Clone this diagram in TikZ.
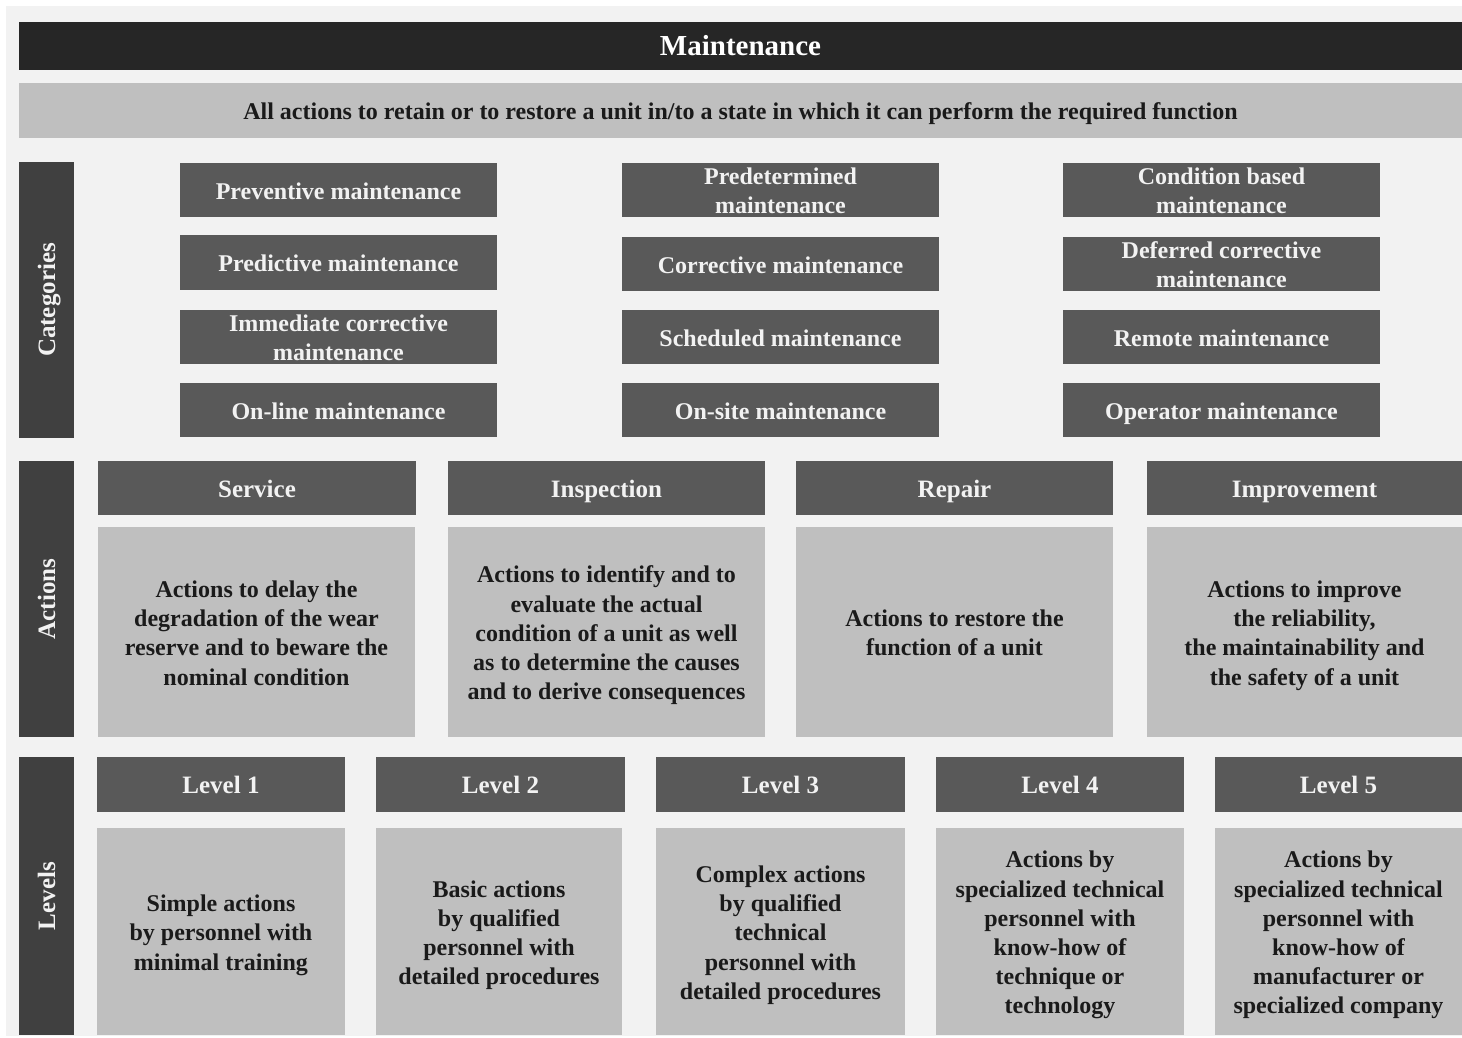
\documentclass[tikz,border=0pt]{standalone}
\usepackage{fontspec}
\setmainfont{Liberation Serif}
\definecolor{bgc}{HTML}{F2F2F2}
\definecolor{titlec}{HTML}{262626}
\definecolor{subc}{HTML}{BFBFBF}
\definecolor{sidec}{HTML}{404040}
\definecolor{hdrc}{HTML}{595959}
\definecolor{bodyc}{HTML}{BFBFBF}
\definecolor{txtl}{HTML}{F2F2F2}
\definecolor{txtd}{HTML}{1A1A1A}
\tikzset{
  base/.style={rectangle,inner sep=0pt,align=center},
  titlebox/.style={base,fill=titlec,text=white,font=\bfseries\fontsize{14.5}{16}\selectfont},
  subbox/.style={base,fill=subc,text=txtd,font=\bfseries\fontsize{12}{14}\selectfont},
  sidebox/.style={base,fill=sidec,text=txtl,font=\bfseries\fontsize{12.5}{14}\selectfont},
  catbox/.style={base,fill=hdrc,text=txtl,font=\bfseries\fontsize{12}{14.5}\selectfont},
  hdrbox/.style={base,fill=hdrc,text=txtl,font=\bfseries\fontsize{12.5}{14.5}\selectfont},
  bodybox/.style={base,fill=bodyc,text=txtd,font=\bfseries\fontsize{12}{14.6}\selectfont},
}
% \bx{name}{style}{x1}{y1}{x2}{y2}{text}
\newcommand{\bx}[7]{%
  \pgfmathsetmacro{\cx}{(#3+#5)/2}\pgfmathsetmacro{\cy}{(#4+#6)/2}%
  \pgfmathsetmacro{\bw}{(#5-#3)*0.5}\pgfmathsetmacro{\bh}{(#6-#4)*0.5}%
  \node[#2,minimum width=\bw pt,minimum height=\bh pt] (#1) at (\cx,\cy) {};
  \node[#2,fill=none,yshift=-1.75pt] (#1-t) at (#1.center) {\strut#7\strut};}
\newcommand{\sidebx}[4]{%
  \node[sidebox,minimum width=#3pt,minimum height=27.5pt,rotate=90] (#1) at (46.5,#2) {};
  \node[sidebox,fill=none,rotate=90] (#1-t) at ([xshift=1.5pt]#1.center) {\strut#4\strut};}
\begin{document}
\begin{tikzpicture}[x=0.5pt,y=-0.5pt]
\useasboundingbox (0,0) rectangle (1462,1038);
\fill[white] (0,0) rectangle (1462,1038);
\fill[bgc] (6,6) rectangle (1462,1036);
\bx{title}{titlebox}{19}{22}{1462}{70}{Maintenance}
\bx{sub}{subbox}{19}{83}{1462}{138}{All actions to retain or to restore a unit in/to a state in which it can perform the required function}
% side bars
\sidebx{cats}{300}{138}{Categories}
\sidebx{acts}{599}{138}{Actions}
\sidebx{levs}{896}{139}{Levels}
% categories
\bx{c11}{catbox}{180}{163}{497}{217}{Preventive maintenance}
\bx{c12}{catbox}{180}{235}{497}{290}{Predictive maintenance}
\bx{c13}{catbox}{180}{310}{497}{364}{Immediate corrective\\maintenance}
\bx{c14}{catbox}{180}{383}{497}{437}{On-line maintenance}
\bx{c21}{catbox}{622}{163}{939}{217}{Predetermined\\maintenance}
\bx{c22}{catbox}{622}{237}{939}{291}{Corrective maintenance}
\bx{c23}{catbox}{622}{310}{939}{364}{Scheduled maintenance}
\bx{c24}{catbox}{622}{383}{939}{437}{On-site maintenance}
\bx{c31}{catbox}{1063}{163}{1380}{217}{Condition based\\maintenance}
\bx{c32}{catbox}{1063}{237}{1380}{291}{Deferred corrective\\maintenance}
\bx{c33}{catbox}{1063}{310}{1380}{364}{Remote maintenance}
\bx{c34}{catbox}{1063}{383}{1380}{437}{Operator maintenance}
% actions
\bx{a1}{hdrbox}{98}{461}{416}{515}{Service}
\bx{a2}{hdrbox}{448}{461}{765}{515}{Inspection}
\bx{a3}{hdrbox}{796}{461}{1113}{515}{Repair}
\bx{a4}{hdrbox}{1147}{461}{1462}{515}{Improvement}
\bx{ab1}{bodybox}{98}{527}{415}{737}{Actions to delay the\\degradation of the wear\\reserve and to beware the\\nominal condition}
\bx{ab2}{bodybox}{448}{527}{765}{737}{Actions to identify and to\\evaluate the actual\\condition of a unit as well\\as to determine the causes\\and to derive consequences}
\bx{ab3}{bodybox}{796}{527}{1113}{737}{Actions to restore the\\function of a unit}
\bx{ab4}{bodybox}{1147}{527}{1462}{737}{Actions to improve\\the reliability,\\the maintainability and\\the safety of a unit}
% levels
\bx{l1}{hdrbox}{97}{757}{345}{812}{Level 1}
\bx{l2}{hdrbox}{376}{757}{625}{812}{Level 2}
\bx{l3}{hdrbox}{656}{757}{905}{812}{Level 3}
\bx{l4}{hdrbox}{936}{757}{1184}{812}{Level 4}
\bx{l5}{hdrbox}{1215}{757}{1462}{812}{Level 5}
\bx{lb1}{bodybox}{97}{828}{345}{1035}{Simple actions\\by personnel with\\minimal training}
\bx{lb2}{bodybox}{376}{828}{622}{1035}{Basic actions\\by qualified\\personnel with\\detailed procedures}
\bx{lb3}{bodybox}{656}{828}{905}{1035}{Complex actions\\by qualified\\technical\\personnel with\\detailed procedures}
\bx{lb4}{bodybox}{936}{828}{1184}{1035}{Actions by\\specialized technical\\personnel with\\know-how of\\technique or\\technology}
\bx{lb5}{bodybox}{1215}{828}{1462}{1035}{Actions by\\specialized technical\\personnel with\\know-how of\\manufacturer or\\specialized company}
\end{tikzpicture}
\end{document}
